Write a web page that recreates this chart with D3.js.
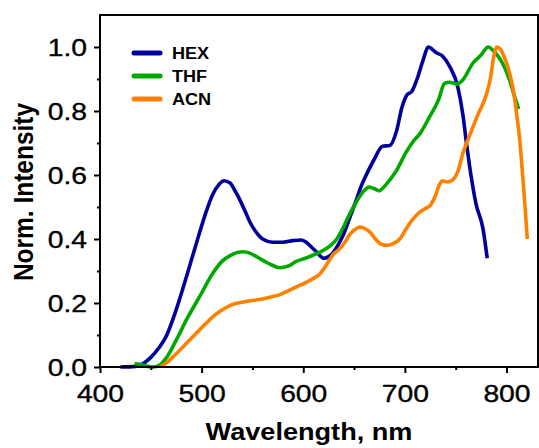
<!DOCTYPE html>
<html><head><meta charset="utf-8">
<script src="https://cdn.jsdelivr.net/npm/d3@7/dist/d3.min.js"></script>
<style>body{margin:0;background:#fff}svg{display:block}text{font-family:"Liberation Sans",Arial,sans-serif}</style>
</head><body><svg id="c" width="539" height="448"></svg>
<script>
const seriesNames = ["HEX","THF","ACN"];
const seriesColors = ["#00009C","#00A800","#FF8000"];
const hexX = [420,435,442,450,458,465,474,482,490,498,505,511,517,522,528,533,538,543,548,554,560,570,580,590,598,603,607,613,620,625,629,634,639,645,652,657,662,670,678,685,692,697,702,707,712,718,723,731,737,744,752,757,761,765,770,777,781];
const hexY = [0,0.002,0.01,0.03,0.06,0.095,0.17,0.25,0.335,0.42,0.49,0.54,0.57,0.582,0.575,0.55,0.52,0.485,0.45,0.42,0.40,0.39,0.39,0.395,0.397,0.39,0.378,0.36,0.34,0.345,0.356,0.38,0.41,0.46,0.52,0.565,0.60,0.65,0.69,0.692,0.74,0.81,0.85,0.862,0.90,0.96,1.0,0.982,0.972,0.94,0.876,0.79,0.69,0.60,0.51,0.43,0.34];
const thfX = [434,440,447,452,457,466,475,485,498,511,520,528,535,541,548,554,565,577,585,593,602,610,620,627,633,640,646,653,659,665,670,675,680,685,691,701,708,715,724,733,739,744,751,757,767,775,782,788,796,803,808,812];
const thfY = [0.01,0.008,0.002,0.0,0.003,0.032,0.084,0.147,0.22,0.293,0.33,0.348,0.358,0.36,0.355,0.345,0.325,0.31,0.315,0.33,0.34,0.35,0.365,0.38,0.40,0.44,0.48,0.52,0.548,0.562,0.557,0.551,0.565,0.584,0.61,0.67,0.704,0.73,0.78,0.834,0.886,0.89,0.884,0.897,0.95,0.975,1.0,0.985,0.95,0.897,0.845,0.806];
const acnX = [459,465,472,485,498,511,520,530,541,550,561,570,577,585,593,602,610,616,621,629,636,641,646,652,656,661,666,671,676,682,688,695,700,705,710,715,720,725,730,734,737,742,747,752,757,762,767,772,777,781,784,787.5,790.5,794,797,803,807,810,813,815.5,818,820.5];
const acnY = [0,0.012,0.032,0.074,0.116,0.157,0.178,0.195,0.203,0.208,0.213,0.22,0.226,0.238,0.25,0.263,0.277,0.29,0.31,0.35,0.37,0.39,0.415,0.432,0.437,0.432,0.42,0.40,0.385,0.38,0.385,0.40,0.425,0.45,0.47,0.485,0.495,0.505,0.535,0.57,0.582,0.578,0.585,0.61,0.667,0.71,0.75,0.79,0.824,0.86,0.90,0.97,1.0,0.993,0.975,0.918,0.86,0.79,0.71,0.616,0.51,0.40];
const xTicks = [400,500,600,700,800];
const xMinor = [450,550,650,750];
const yTicks = [0.0,0.2,0.4,0.6,0.8,1.0];
const yMinor = [0.1,0.3,0.5,0.7,0.9];
const xTitle = "Wavelength, nm";
const yTitle = "Norm. Intensity";

const svg = d3.select("#c");
const L=100,R=538,T=15,B=367;
const x = d3.scaleLinear().domain([400,831]).range([L,R]);
const y = d3.scaleLinear().domain([0,1.1]).range([B,T]);
const SX = 1.13, TSX = 1.18;

const series = [[hexX,hexY],[thfX,thfY],[acnX,acnY]];
const line = d3.line().x(d=>x(d[0])).y(d=>y(d[1])).curve(d3.curveMonotoneX);
series.forEach((s,i)=>{
  const pts = s[0].map((v,j)=>[v,s[1][j]]);
  svg.append("path").attr("d",line(pts)).attr("fill","none")
    .attr("stroke",seriesColors[i]).attr("stroke-width",3.6).attr("stroke-linejoin","round").attr("stroke-linecap","butt");
});

svg.append("rect").attr("x",L).attr("y",T).attr("width",R-L).attr("height",B-T)
  .attr("fill","none").attr("stroke","#000").attr("stroke-width",2);

const xa = svg.append("g").attr("transform",`translate(0,${B})`)
  .call(d3.axisBottom(x).tickValues(xTicks).tickSize(6).tickFormat(d3.format("d")));
const xm = svg.append("g").attr("transform",`translate(0,${B})`)
  .call(d3.axisBottom(x).tickValues(xMinor).tickSize(3).tickFormat(""));
const ya = svg.append("g").attr("transform",`translate(${L},0)`)
  .call(d3.axisLeft(y).tickValues(yTicks).tickSize(6).tickFormat(d3.format(".1f")));
const ym = svg.append("g").attr("transform",`translate(${L},0)`)
  .call(d3.axisLeft(y).tickValues(yMinor).tickSize(3).tickFormat(""));
[xa,xm,ya,ym].forEach(g=>{
  g.select(".domain").remove();
  g.selectAll(".tick line").attr("stroke","#000").attr("stroke-width",2);
  g.selectAll("text").attr("font-size",24).attr("fill","#000").attr("stroke","#000").attr("stroke-width",0.35)
    .attr("font-family","Liberation Sans, Arial, sans-serif");
});
xa.selectAll(".tick text").attr("y",0).attr("dy",0)
  .attr("transform",`translate(0,35) scale(${TSX},1)`);
ya.selectAll(".tick text").attr("x",0).attr("dy",0).attr("text-anchor","end")
  .attr("transform",`translate(-13,8) scale(${TSX},1)`);

svg.append("text").attr("transform",`translate(${(L+R)/2 - 10},440) scale(${SX},1)`)
  .attr("text-anchor","middle").attr("font-size",24).attr("font-weight","bold").text(xTitle);
svg.append("text").attr("transform",`translate(33,192) rotate(-90) scale(1,${SX})`)
  .attr("text-anchor","middle").attr("font-size",24.5).attr("font-weight","bold").text(yTitle);

seriesNames.forEach((n,i)=>{
  const ly = 53 + i*23;
  svg.append("line").attr("x1",134).attr("x2",160).attr("y1",ly).attr("y2",ly)
    .attr("stroke",seriesColors[i]).attr("stroke-width",5).attr("stroke-linecap","round");
  svg.append("text").attr("transform",`translate(172,${ly+6}) scale(${SX},1)`)
    .attr("font-size",16).attr("font-weight","bold").text(n);
});
</script></body></html>
